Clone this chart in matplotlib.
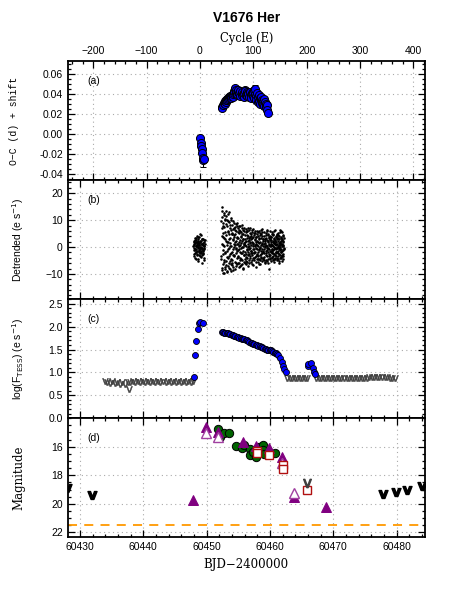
import matplotlib
matplotlib.use("Agg")
import matplotlib.pyplot as plt
from matplotlib.ticker import MultipleLocator, FixedLocator

plt.rcParams['font.family'] = ['Liberation Sans', 'DejaVu Sans']
plt.rcParams['font.size'] = 7.5

# ---------------- data ----------------
# Panel (a): O-C vs cycle
oc_cycle = [0, 1, 2, 3, 4, 5, 6, 7,
            41, 42, 43, 45, 46, 47, 48, 49, 50, 51, 52, 53, 54, 55, 56, 57, 58, 59,
            60, 61, 62, 63, 64, 65, 66, 67, 68, 69, 70, 71, 72, 74, 75, 76, 78, 79,
            80, 82, 83, 84, 85, 86, 88, 89, 90, 91, 92, 94, 95, 96, 98, 99, 100,
            101, 102, 103, 104, 105, 106, 107, 108, 109, 110, 111, 112, 113, 114,
            115, 116, 117, 118, 119, 120, 121, 122, 123, 124, 125, 126, 127]
oc_val = [-0.004, -0.009, -0.012, -0.015, -0.019, -0.026, -0.024, -0.025,
          0.027, 0.026, 0.029, 0.031, 0.030, 0.033, 0.032, 0.034, 0.035, 0.034, 0.036, 0.035,
          0.037, 0.036, 0.038, 0.037, 0.036, 0.038,
          0.039, 0.037, 0.040, 0.041, 0.043, 0.045, 0.046, 0.044, 0.041, 0.039, 0.040, 0.042,
          0.044, 0.041, 0.038, 0.043, 0.039, 0.042,
          0.040, 0.037, 0.041, 0.044, 0.043, 0.039, 0.042, 0.038, 0.041, 0.040, 0.037, 0.042,
          0.039, 0.036, 0.041, 0.038, 0.042,
          0.044, 0.036, 0.040, 0.045, 0.038, 0.034, 0.041, 0.032, 0.037, 0.039, 0.033, 0.036,
          0.030, 0.035,
          0.037, 0.034, 0.031, 0.033, 0.029, 0.035, 0.028, 0.032, 0.030, 0.027, 0.029, 0.024, 0.021]
big_err = {5: 0.007, 104: 0.004}
oc_err = [big_err.get(c, 0.0015) for c in oc_cycle]

# Panel (b): detrended flux (two interleaved passes of readings)
det_t = [60447.92, 60447.96, 60448.00, 60448.04, 60448.08, 60448.12, 60448.16, 60448.20, 60448.24,
         60448.28, 60448.32, 60448.36, 60448.40, 60448.44, 60448.48, 60448.52, 60448.56, 60448.60,
         60448.64, 60448.68, 60448.72, 60448.76, 60448.80, 60448.84, 60448.88, 60448.92, 60448.96,
         60449.00, 60449.04, 60449.08, 60449.12, 60449.16, 60449.20, 60449.24, 60449.28, 60449.32,
         60449.36, 60449.40, 60449.44, 60449.48, 60449.52, 60449.56, 60449.60, 60449.64, 60449.68,
         60452.30, 60452.34, 60452.38, 60452.42, 60452.45, 60452.49, 60452.53, 60452.57, 60452.60,
         60452.64, 60452.68, 60452.72, 60452.75, 60452.79, 60452.83, 60452.87, 60452.91, 60452.95,
         60453.00, 60453.04, 60453.08, 60453.12, 60453.16, 60453.20, 60453.24, 60453.28, 60453.32,
         60453.36, 60453.40, 60453.44, 60453.48, 60453.52, 60453.56, 60453.60, 60453.64, 60453.68,
         60453.72, 60453.76, 60453.80, 60453.84, 60453.88, 60453.92, 60453.96,
         60454.00, 60454.04, 60454.08, 60454.12, 60454.16, 60454.20, 60454.24, 60454.28, 60454.32,
         60454.36, 60454.40, 60454.44, 60454.48, 60454.52, 60454.56, 60454.60, 60454.64, 60454.68,
         60454.72, 60454.76, 60454.80, 60454.84, 60454.88, 60454.92, 60454.96,
         60455.00, 60455.04, 60455.08, 60455.12, 60455.16, 60455.20, 60455.24, 60455.28, 60455.32,
         60455.36, 60455.40, 60455.44, 60455.48, 60455.52, 60455.56, 60455.60, 60455.64, 60455.68,
         60455.72, 60455.76, 60455.80, 60455.84, 60455.88, 60455.92, 60455.96,
         60456.00, 60456.04, 60456.08, 60456.12, 60456.16, 60456.20, 60456.24, 60456.28, 60456.32,
         60456.36, 60456.40, 60456.44, 60456.48, 60456.52, 60456.56, 60456.60, 60456.64, 60456.68,
         60456.72, 60456.76, 60456.80, 60456.84, 60456.88, 60456.92, 60456.96,
         60457.00, 60457.04, 60457.08, 60457.12, 60457.16, 60457.20, 60457.24, 60457.28, 60457.32,
         60457.36, 60457.40, 60457.44, 60457.48, 60457.52, 60457.56, 60457.60, 60457.64, 60457.68,
         60457.72, 60457.76, 60457.80, 60457.84, 60457.88, 60457.92, 60457.96,
         60458.00, 60458.04, 60458.08, 60458.12, 60458.16, 60458.20, 60458.24, 60458.28, 60458.32,
         60458.36, 60458.40, 60458.44, 60458.48, 60458.52, 60458.56, 60458.60, 60458.64, 60458.68,
         60458.72, 60458.76, 60458.80, 60458.84, 60458.88, 60458.92, 60458.96,
         60459.00, 60459.04, 60459.08, 60459.12, 60459.16, 60459.20, 60459.24, 60459.28, 60459.32,
         60459.36, 60459.40, 60459.44, 60459.48, 60459.52, 60459.56, 60459.60, 60459.64, 60459.68,
         60459.72, 60459.76, 60459.80, 60459.84, 60459.88, 60459.92, 60459.96,
         60460.00, 60460.03, 60460.07, 60460.10, 60460.13, 60460.17, 60460.20, 60460.23, 60460.27,
         60460.30, 60460.33, 60460.37, 60460.40, 60460.43, 60460.47, 60460.50, 60460.53, 60460.57,
         60460.60, 60460.63, 60460.67, 60460.70, 60460.73, 60460.77, 60460.80, 60460.83, 60460.87,
         60460.90, 60460.93, 60460.97,
         60461.00, 60461.03, 60461.07, 60461.10, 60461.13, 60461.17, 60461.20, 60461.23, 60461.27,
         60461.30, 60461.33, 60461.37, 60461.40, 60461.43, 60461.47, 60461.50, 60461.53, 60461.57,
         60461.60, 60461.63, 60461.67, 60461.70, 60461.73, 60461.77, 60461.80, 60461.83, 60461.87,
         60461.90, 60461.93, 60461.97, 60462.00, 60462.03, 60462.07, 60462.10, 60462.13, 60462.17]
det_v = [0.5, -1.2, 2.1, -3.4, 1.0, 3.2, -0.8, -2.1, 1.7, 0.3, -4.3, 2.6, -1.5, 0.9, 4.1, -2.7, -0.2,
         1.4, -5.1, 2.9, -1.0, 0.6, 3.6, -3.0, 1.9, -0.5, -2.4, 4.8, 0.1, -1.8, 2.3, -3.7, 1.2, -0.9,
         3.0, -5.8, 0.7, -2.2, 1.6, -1.3, 2.5, -4.0, 0.4, -0.6, 1.1,
         9.5, -3.2, 14.8, -8.7, 4.1, 11.2, -1.0, -6.5, 7.8, 0.6, -9.8, 12.5, 3.3, -4.9, 9.9, -2.1, 5.6, -7.4,
         13.4, -5.3, 2.4, 8.6, -9.1, 0.9, 10.2, -3.8, 6.1, -7.2, 1.8, 12.1, -0.4, -5.9, 4.7, 9.3, -2.6,
         -8.0, 3.5, 7.1, -4.4, 0.2, 10.8, -6.3, 5.0,
         -1.7, 8.1, -6.8, 3.0, -3.1, 6.6, -8.4, 1.3, 9.0, -2.9, 4.4, -5.6, 0.8, 7.4, -7.1, 2.2, -0.9,
         5.8, -4.2, 8.8, -1.4, 3.9, -6.0, 1.0, 6.9,
         -3.5, 5.2, 0.4, -7.6, 7.7, -1.9, 2.7, -5.0, 6.0, -0.3, 3.6, -6.6, 1.5, 8.3, -2.4, -4.7, 4.9,
         0.0, -8.2, 2.9, 6.4, -3.0, 1.2, -5.4, 7.0,
         -2.0, 4.5, -6.1, 1.9, 6.8, -3.7, 0.5, -5.2, 3.2, -1.1, 5.9, -4.0, 2.4, -6.9, 0.1, 4.0, -2.7,
         6.3, -0.6, -4.8, 1.6, 3.7, -3.3, 7.2, -1.5,
         2.8, -5.7, 0.9, 5.5, -2.3, -6.3, 3.4, -0.8, 6.7, -4.1, 1.4, -1.9, 4.6, -5.0, 0.3, 2.6, -3.6,
         5.1, -7.5, 1.1, -0.2, 3.8, -2.8, 6.1, -4.6,
         0.7, -3.4, 4.2, -5.5, 1.8, 6.0, -1.2, -4.3, 2.9, -0.5, 5.3, -6.2, 0.0, 3.5, -2.5, 4.8, -3.9,
         1.6, -0.9, 6.6, -5.1, 2.1, -1.7, 3.1, -4.0,
         1.3, -2.2, 5.6, -4.7, 0.4, 3.0, -6.0, 2.2, -1.4, 4.4, -3.1, 0.9, 6.2, -5.3, -0.2, 2.7, -2.0,
         4.9, -4.4, 1.7, -0.7, 3.3, -3.5, -8.0, 5.8,
         0.2, -3.0, 4.1, -1.6, 2.5, -5.2, 1.0, 3.6, -2.4, 0.6, 5.0, -4.1, -0.8, 2.0, -3.5, 4.4, -1.1,
         1.5, -5.6, 3.1, 0.0, -2.7, 6.3, -0.4, 2.3, -4.6, 1.2, -1.9, 3.8, -3.2,
         1.9, -2.1, 4.6, -0.3, -4.9, 2.8, 0.5, -3.3, 5.2, -1.5, 3.3, -5.9, 0.8, -0.9, 4.0, -2.6, 1.4,
         6.4, -4.2, 0.1, 2.4, -1.8, -3.7, 3.7, -0.6, 5.5, -2.9, 1.0, -5.1, 2.9, -1.2, 4.3, -3.4, 0.4,
         1.7, -0.2]
det2_t = [60447.94, 60447.98, 60448.02, 60448.06, 60448.10, 60448.14, 60448.18, 60448.22, 60448.26,
          60448.30, 60448.34, 60448.38, 60448.42, 60448.46, 60448.50, 60448.54, 60448.58, 60448.62,
          60448.66, 60448.70, 60448.74, 60448.78, 60448.82, 60448.86, 60448.90, 60448.94, 60448.98,
          60449.02, 60449.06, 60449.10, 60449.14, 60449.18, 60449.22, 60449.26, 60449.30, 60449.34,
          60449.38, 60449.42, 60449.46, 60449.50, 60449.54, 60449.58, 60449.62, 60449.66, 60449.70,
          60452.32, 60452.36, 60452.40, 60452.44, 60452.47, 60452.51, 60452.55, 60452.59, 60452.62,
          60452.66, 60452.70, 60452.74, 60452.77, 60452.81, 60452.85, 60452.89, 60452.93, 60452.97,
          60453.02, 60453.06, 60453.10, 60453.14, 60453.18, 60453.22, 60453.26, 60453.30, 60453.34,
          60453.38, 60453.42, 60453.46, 60453.50, 60453.54, 60453.58, 60453.62, 60453.66, 60453.70,
          60453.74, 60453.78, 60453.82, 60453.86, 60453.90, 60453.94, 60453.98,
          60454.02, 60454.06, 60454.10, 60454.14, 60454.18, 60454.22, 60454.26, 60454.30, 60454.34,
          60454.38, 60454.42, 60454.46, 60454.50, 60454.54, 60454.58, 60454.62, 60454.66, 60454.70,
          60454.74, 60454.78, 60454.82, 60454.86, 60454.90, 60454.94, 60454.98,
          60455.02, 60455.06, 60455.10, 60455.14, 60455.18, 60455.22, 60455.26, 60455.30, 60455.34,
          60455.38, 60455.42, 60455.46, 60455.50, 60455.54, 60455.58, 60455.62, 60455.66, 60455.70,
          60455.74, 60455.78, 60455.82, 60455.86, 60455.90, 60455.94, 60455.98,
          60456.02, 60456.06, 60456.10, 60456.14, 60456.18, 60456.22, 60456.26, 60456.30, 60456.34,
          60456.38, 60456.42, 60456.46, 60456.50, 60456.54, 60456.58, 60456.62, 60456.66, 60456.70,
          60456.74, 60456.78, 60456.82, 60456.86, 60456.90, 60456.94, 60456.98,
          60457.02, 60457.06, 60457.10, 60457.14, 60457.18, 60457.22, 60457.26, 60457.30, 60457.34,
          60457.38, 60457.42, 60457.46, 60457.50, 60457.54, 60457.58, 60457.62, 60457.66, 60457.70,
          60457.74, 60457.78, 60457.82, 60457.86, 60457.90, 60457.94, 60457.98,
          60458.02, 60458.06, 60458.10, 60458.14, 60458.18, 60458.22, 60458.26, 60458.30, 60458.34,
          60458.38, 60458.42, 60458.46, 60458.50, 60458.54, 60458.58, 60458.62, 60458.66, 60458.70,
          60458.74, 60458.78, 60458.82, 60458.86, 60458.90, 60458.94, 60458.98,
          60459.02, 60459.06, 60459.10, 60459.14, 60459.18, 60459.22, 60459.26, 60459.30, 60459.34,
          60459.38, 60459.42, 60459.46, 60459.50, 60459.54, 60459.58, 60459.62, 60459.66, 60459.70,
          60459.74, 60459.78, 60459.82, 60459.86, 60459.90, 60459.94, 60459.98,
          60460.015, 60460.05, 60460.085, 60460.115, 60460.15, 60460.185, 60460.215, 60460.25,
          60460.285, 60460.315, 60460.35, 60460.385, 60460.415, 60460.45, 60460.485, 60460.515,
          60460.55, 60460.585, 60460.615, 60460.65, 60460.685, 60460.715, 60460.75, 60460.785,
          60460.815, 60460.85, 60460.885, 60460.915, 60460.95, 60460.985,
          60461.015, 60461.05, 60461.085, 60461.115, 60461.15, 60461.185, 60461.215, 60461.25,
          60461.285, 60461.315, 60461.35, 60461.385, 60461.415, 60461.45, 60461.485, 60461.515,
          60461.55, 60461.585, 60461.615, 60461.65, 60461.685, 60461.715, 60461.75, 60461.785,
          60461.815, 60461.85, 60461.885, 60461.915, 60461.95, 60461.985, 60462.015, 60462.05,
          60462.085, 60462.115, 60462.15, 60462.185]
det2_v = [-0.3, 1.8, -2.6, 0.9, 2.7, -1.1, -3.9, 1.5, 0.2, -1.7, 3.4, -0.7, 2.0, -2.9, 0.5, 1.2,
          -4.6, 2.4, -0.1, 3.9, -1.4, 0.8, -2.0, 1.6, -3.2, 2.2, 0.0, -0.9, 4.4, -2.3, 1.0, -1.6,
          2.8, -0.4, -3.0, 1.3, 0.6, -2.5, 3.1, -1.0, 0.3, -4.8, 1.9, -0.2, 2.6,
          -4.6, 6.9, 1.2, 13.5, -7.9, 3.8, -2.7, 9.1, -9.5, 5.2, 0.3, 11.8, -5.6, 7.5, -1.8, 2.9,
          -8.3, 10.4,
          4.3, -6.7, 11.4, -1.5, 7.9, -9.4, 2.0, 5.7, -4.2, 9.6, -0.7, -7.8, 3.1, 12.9, -3.4, 0.5,
          8.2, -5.1, 1.4, 6.3, -8.9, 10.0, -2.2, 4.9, -6.1,
          5.1, -4.8, 2.5, 9.7, -0.6, -7.4, 3.7, 7.0, -3.3, 0.1, 6.2, -8.1, 1.9, 4.8, -2.2, 8.4,
          -5.9, -0.2, 3.4, -6.5, 7.8, 1.1, -3.8, 5.4, -1.0,
          3.3, -5.8, 6.5, -0.8, 1.9, -3.9, 8.0, -7.0, 0.6, 4.2, -2.1, 5.7, -4.5, 2.3, -0.1, 7.1,
          -6.2, 3.0, -1.6, 4.7, -7.7, 0.9, 6.0, -2.9, 1.5,
          3.0, -4.4, 0.6, 5.6, -2.5, -6.4, 2.1, 6.1, -0.9, 4.3, -5.5, 1.2, -1.8, 6.9, -3.1, 0.3,
          3.5, -6.0, 2.6, -0.3, 5.2, -4.1, 1.7, -2.2, 4.8,
          -1.3, 4.1, -4.9, 2.0, 6.4, -3.0, 0.4, -6.8, 3.6, 1.0, -2.4, 5.3, -0.6, -4.2, 2.9, 6.0,
          -1.9, 0.7, -5.5, 3.9, -3.4, 1.8, 5.0, -0.9, -2.7,
          2.4, -1.8, 5.7, -4.6, 0.3, 3.2, -6.5, 1.5, -0.8, 4.5, -3.0, 2.0, -5.0, 6.2, -1.3, 0.6,
          -3.6, 4.1, -2.2, 1.0, 5.4, -4.3, 0.2, 3.0, -1.5,
          -0.6, 4.2, -3.8, 1.6, -5.4, 2.8, 0.0, 5.3, -2.3, 3.5, -4.9, 0.5, -1.0, 6.0, -3.2, 2.1,
          -0.4, 4.6, -6.1, 1.3, 3.8, -2.6, 0.8, -4.0, 2.6,
          -1.4, 2.8, -4.3, 0.5, 3.9, -2.0, 1.7, -0.9, 5.4, -3.6, 0.9, -1.3, 4.7, -5.0, 2.2, -2.4,
          0.3, 3.3, -4.4, 1.5, -0.6, 5.8, -2.8, 1.1, -3.9, 2.6, -0.2, 4.0, -1.7, 0.7,
          -0.8, 3.2, -3.9, 1.3, 5.0, -1.7, -4.4, 2.3, 0.0, 4.5, -2.4, 1.6, -5.3, 3.0, -0.5, 2.0,
          -3.1, 5.7, -1.1, 0.9, -4.0, 3.5, -2.0, 1.2, 6.0, -3.5, 0.4, 2.7, -1.4, 4.1, -4.6, 0.8,
          2.2, -2.7, 3.4, -0.9]

# Panel (c): log TESS flux (detections) and upper limits
tess_t = [60447.95, 60448.16, 60448.36, 60448.58, 60448.79, 60449.00, 60449.37,
          60452.37, 60452.55, 60452.75, 60452.95, 60453.15, 60453.35, 60453.55, 60453.75, 60453.95,
          60454.15, 60454.35, 60454.55, 60454.75, 60454.95, 60455.15, 60455.35, 60455.55, 60455.75,
          60455.95, 60456.15, 60456.35, 60456.55, 60456.75, 60456.95, 60457.15, 60457.35, 60457.55,
          60457.75, 60457.95, 60458.15, 60458.35, 60458.55, 60458.75, 60458.95, 60459.15, 60459.35,
          60459.55, 60459.75, 60459.95, 60460.15, 60460.35, 60460.55, 60460.75, 60460.95, 60461.15,
          60461.30, 60461.60, 60461.85, 60462.00, 60462.26, 60462.50,
          60466.02, 60466.05, 60466.42, 60466.74, 60466.95, 60467.16]
tess_f = [0.89, 1.38, 1.68, 1.94, 2.08, 2.11, 2.08,
          1.89, 1.88, 1.87, 1.87, 1.86, 1.85, 1.84, 1.83, 1.82,
          1.81, 1.80, 1.79, 1.78, 1.77, 1.76, 1.75, 1.74, 1.73,
          1.72, 1.71, 1.70, 1.68, 1.67, 1.65, 1.64, 1.63, 1.61,
          1.60, 1.59, 1.58, 1.57, 1.56, 1.55, 1.53, 1.52, 1.51,
          1.50, 1.49, 1.49, 1.48, 1.46, 1.45, 1.43, 1.42, 1.40,
          1.37, 1.31, 1.22, 1.13, 1.07, 1.00,
          1.15, 1.18, 1.21, 1.10, 1.02, 0.96]
ulc_t = [60433.9, 60434.3, 60434.7, 60435.1, 60435.5, 60435.9, 60436.3, 60436.7, 60437.1, 60437.5,
         60437.7, 60437.9, 60438.3, 60438.7, 60439.1, 60439.5, 60439.9, 60440.3, 60440.7, 60441.1,
         60441.5, 60441.9, 60442.3, 60442.7, 60443.1, 60443.5, 60443.9, 60444.3, 60444.7, 60445.1,
         60445.5, 60445.9, 60446.3, 60446.7, 60447.1, 60447.5, 60447.9,
         60462.7, 60463.1, 60463.5, 60463.9, 60464.3, 60464.7, 60465.1, 60465.5, 60465.9,
         60467.3, 60467.7, 60468.1, 60468.5, 60468.9, 60469.3, 60469.7, 60470.1, 60470.5, 60470.9,
         60471.3, 60471.7, 60472.1, 60472.5, 60472.9, 60473.3, 60473.7, 60474.1, 60474.5, 60474.9,
         60475.3, 60475.7, 60476.1, 60476.5, 60476.9, 60477.3, 60477.7, 60478.1, 60478.5, 60478.9,
         60479.3, 60479.7]
ulc_f = [0.81, 0.80, 0.78, 0.81, 0.76, 0.80, 0.74, 0.79, 0.75, 0.79,
         0.63, 0.80, 0.81, 0.80, 0.81, 0.80, 0.81, 0.80, 0.81, 0.80,
         0.81, 0.80, 0.81, 0.80, 0.81, 0.80, 0.81, 0.80, 0.81, 0.80,
         0.81, 0.80, 0.81, 0.80, 0.81, 0.80, 0.81,
         0.87, 0.87, 0.87, 0.88, 0.87, 0.87, 0.87, 0.88, 0.87,
         0.87, 0.87, 0.87, 0.87, 0.87, 0.87, 0.87, 0.87, 0.87, 0.87,
         0.87, 0.87, 0.87, 0.87, 0.87, 0.87, 0.87, 0.87, 0.87, 0.87,
         0.88, 0.89, 0.89, 0.89, 0.89, 0.89, 0.89, 0.89, 0.89, 0.88,
         0.88, 0.88]

# Panel (d): magnitudes
grn_t = [60451.85, 60451.95, 60452.10, 60452.70, 60453.60, 60454.60, 60455.60, 60455.90, 60456.85,
         60456.90, 60457.40, 60457.80, 60458.20, 60458.50, 60458.85, 60458.95, 60459.00, 60459.90,
         60460.80]
grn_m = [14.75, 15.15, 15.30, 15.05, 15.05, 15.95, 16.10, 15.90, 16.15,
         16.55, 16.40, 16.75, 16.00, 16.30, 15.90, 16.20, 16.50, 16.40, 16.45]
ptf_t = [60447.8, 60449.9, 60451.85, 60455.7, 60457.8, 60459.85, 60461.85, 60463.8, 60468.85]
ptf_m = [19.75, 14.62, 15.00, 15.65, 15.95, 16.10, 16.75, 19.55, 20.25]
pto_t = [60449.9, 60451.8, 60461.9, 60463.8]
pto_m = [15.05, 15.35, 17.15, 19.25]
sq_t = [60458.0, 60458.0, 60459.9, 60462.0, 60462.0, 60465.9]
sq_m = [16.30, 16.45, 16.60, 17.30, 17.55, 19.05]
uld_t = [60427.9, 60431.85, 60477.9, 60479.85, 60481.7, 60483.95]
uld_m = [18.90, 19.35, 19.30, 19.15, 19.00, 18.75]
ulg_t = [60465.9]
ulg_m = [18.55]
limit_mag = 21.5
mag_ticks = [16, 18, 20, 22]

# ---------------- figure ----------------
fig = plt.figure(figsize=(4.49, 5.98), dpi=100)
L, W, H = 0.1508, 0.7958, 0.1992
bottoms = [0.6988, 0.4997, 0.3006, 0.1015]
axes = [fig.add_axes([L, b, W, H]) for b in bottoms]
ax_a, ax_b, ax_c, ax_d = axes

xlim_bjd = (60428.05, 60484.5)
grid_kw = dict(color='#aaaaaa', linestyle=(0, (1, 3)), linewidth=0.8)

for ax in axes:
    for s in ax.spines.values():
        s.set_linewidth(1.3)
    ax.tick_params(which='both', direction='in', top=True, right=True, width=0.9)
    ax.tick_params(which='major', length=5)
    ax.tick_params(which='minor', length=2.5)
    ax.grid(True, which='major', **grid_kw)
    ax.set_axisbelow(True)

# (a)
ax_a.errorbar(oc_cycle, oc_val, yerr=oc_err, fmt='o', ms=5.8, mfc='#0000ff', mec='black',
              mew=0.7, ecolor='black', elinewidth=0.8, capsize=2.5, zorder=3)
ax_a.set_xlim(-248, 422)
ax_a.set_ylim(-0.0465, 0.0735)
ax_a.xaxis.set_major_locator(MultipleLocator(100))
ax_a.xaxis.set_minor_locator(MultipleLocator(20))
ax_a.yaxis.set_major_locator(MultipleLocator(0.02))
ax_a.yaxis.set_minor_locator(MultipleLocator(0.005))
ax_a.yaxis.set_major_formatter(matplotlib.ticker.FormatStrFormatter('%.2f'))
ax_a.tick_params(labeltop=True, labelbottom=False)
ax_a.set_xlabel('Cycle (E)', family='DejaVu Serif', fontsize=8.3, labelpad=3)
ax_a.xaxis.set_label_position('top')
ax_a.set_ylabel('O\u2212C (d) + shift', family='Liberation Mono', fontsize=7)
ax_a.yaxis.set_label_coords(-0.135, 0.5)
ax_a.text(0.055, 0.835, '(a)', transform=ax_a.transAxes, fontsize=7.5, va='center')
ax_a.set_title('V1676 Her', fontsize=10, fontweight='bold', pad=28)

# (b)
ax_b.scatter(det_t, det_v, s=3.4, c='black', linewidths=0, zorder=3)
ax_b.scatter(det2_t, det2_v, s=3.4, c='black', linewidths=0, zorder=3)
ax_b.set_xlim(*xlim_bjd)
ax_b.set_ylim(-19.4, 24.9)
ax_b.yaxis.set_major_locator(MultipleLocator(10))
ax_b.yaxis.set_minor_locator(MultipleLocator(2))
ax_b.set_ylabel('Detrended (e s$^{-1}$)', fontsize=7.5)
ax_b.yaxis.set_label_coords(-0.118, 0.5)
ax_b.text(0.055, 0.835, '(b)', transform=ax_b.transAxes, fontsize=7.5, va='center')

# (c)
ax_c.plot(ulc_t, ulc_f, linestyle='none', marker='$\\mathrm{v}$', ms=4.5, color='#404040',
          mew=0.3, zorder=3)
ax_c.plot(tess_t, tess_f, 'o', ms=4.3, mfc='#0000ff', mec='black', mew=0.6, zorder=4)
ax_c.set_xlim(*xlim_bjd)
ax_c.set_ylim(0, 2.6)
ax_c.yaxis.set_major_locator(MultipleLocator(0.5))
ax_c.yaxis.set_minor_locator(MultipleLocator(0.1))
ax_c.yaxis.set_major_formatter(matplotlib.ticker.FormatStrFormatter('%.1f'))
ax_c.set_ylabel('log(F$_{\\rm TESS}$) (e s$^{-1}$)', fontsize=7.5)
ax_c.yaxis.set_label_coords(-0.118, 0.5)
ax_c.text(0.055, 0.835, '(c)', transform=ax_c.transAxes, fontsize=7.5, va='center')

# (d)
ax_d.axhline(limit_mag, color='#ff9900', linestyle=(0, (5, 4)), linewidth=1.3, zorder=2)
ax_d.plot(grn_t, grn_m, 'o', ms=6, mfc='#006400', mec='black', mew=0.7, zorder=3)
ax_d.plot(ptf_t, ptf_m, '^', ms=6.5, mfc='#800080', mec='#800080', mew=0.7, zorder=4)
ax_d.plot(pto_t, pto_m, '^', ms=6.5, mfc='white', mec='#a040a0', mew=1.0, zorder=4)
ax_d.plot(sq_t, sq_m, 's', ms=5.2, mfc='white', mec='#b01010', mew=1.0, zorder=5)
ax_d.plot(uld_t, uld_m, linestyle='none', marker='$\\mathbf{v}$', ms=6.5, color='black', zorder=5)
ax_d.plot(ulg_t, ulg_m, linestyle='none', marker='$\\mathrm{V}$', ms=6, color='#404040', zorder=5)
ax_d.set_xlim(*xlim_bjd)
ax_d.set_ylim(22.35, 14.0)
ax_d.xaxis.set_major_formatter(matplotlib.ticker.FormatStrFormatter('%d'))
ax_d.yaxis.set_major_locator(FixedLocator(mag_ticks))
ax_d.yaxis.set_minor_locator(MultipleLocator(0.5))
ax_d.set_ylabel('Magnitude', family='DejaVu Serif', fontsize=8.5)
ax_d.yaxis.set_label_coords(-0.118, 0.5)
ax_d.set_xlabel('BJD\u22122400000', family='DejaVu Serif', fontsize=8.5, labelpad=4)
ax_d.text(0.055, 0.835, '(d)', transform=ax_d.transAxes, fontsize=7.5, va='center')

for ax in (ax_b, ax_c, ax_d):
    ax.xaxis.set_major_locator(MultipleLocator(10))
    ax.xaxis.set_minor_locator(MultipleLocator(2))
for ax in (ax_b, ax_c):
    ax.tick_params(labelbottom=False)

fig.savefig('out.png', dpi=100)
